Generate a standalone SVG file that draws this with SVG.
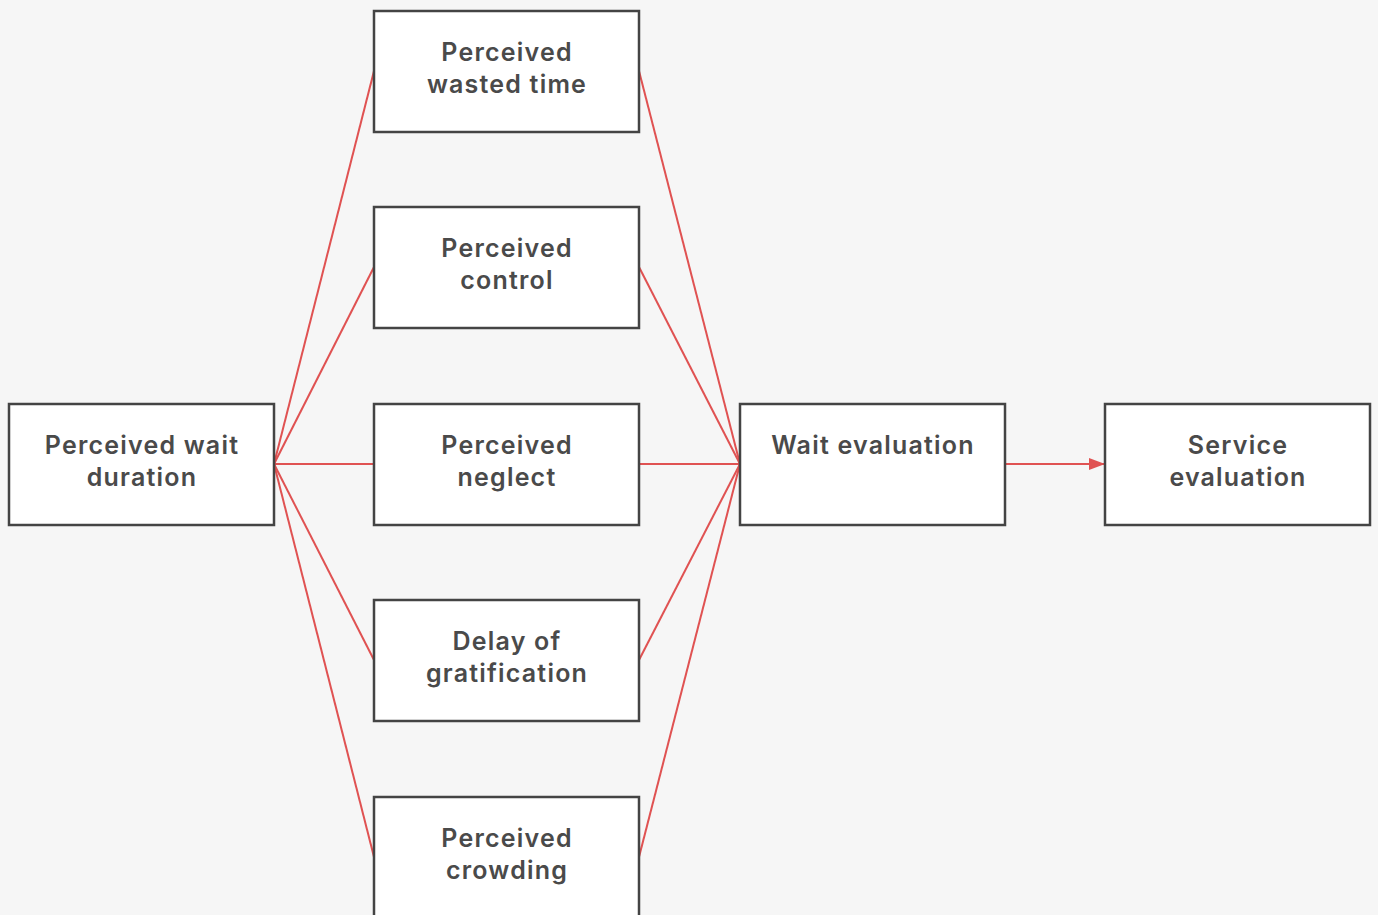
<svg xmlns="http://www.w3.org/2000/svg" width="1378" height="915" viewBox="0 0 1378 915">
<style>
.box{fill:#ffffff;stroke:#444444;stroke-width:2.5}
.t{font-family:Inter,"Open Sans","Liberation Sans",sans-serif;font-weight:600;font-size:25px;letter-spacing:1.2px;fill:#4a4a4a;text-anchor:middle}
.c{stroke:#e05252;stroke-width:2;fill:none}
</style>
<defs>
<marker id="ah" markerWidth="16" markerHeight="12" refX="16" refY="6" orient="auto" markerUnits="userSpaceOnUse">
<path d="M0,0 L16,6 L0,12 Z" fill="#e05252"/>
</marker>
</defs>
<rect width="1378" height="915" fill="#f6f6f6"/>
<g id="connectors">
<line class="c" x1="274" y1="464" x2="374" y2="71"/>
<line class="c" x1="274" y1="464" x2="374" y2="267"/>
<line class="c" x1="274" y1="464" x2="374" y2="464"/>
<line class="c" x1="274" y1="464" x2="374" y2="660"/>
<line class="c" x1="274" y1="464" x2="374" y2="857"/>
<line class="c" x1="639" y1="71" x2="740" y2="464"/>
<line class="c" x1="639" y1="267" x2="740" y2="464"/>
<line class="c" x1="639" y1="464" x2="740" y2="464"/>
<line class="c" x1="639" y1="660" x2="740" y2="464"/>
<line class="c" x1="639" y1="857" x2="740" y2="464"/>
<line class="c" x1="1005" y1="464" x2="1105" y2="464" marker-end="url(#ah)"/>
</g>
<g id="n-duration">
<rect class="box" x="9" y="404" width="265" height="121"/>
<text class="t" x="142" y="454">Perceived wait</text>
<text class="t" x="142" y="486">duration</text>
</g>
<g id="n-wasted">
<rect class="box" x="374" y="11" width="265" height="121"/>
<text class="t" x="507" y="61">Perceived</text>
<text class="t" x="507" y="93">wasted time</text>
</g>
<g id="n-control">
<rect class="box" x="374" y="207" width="265" height="121"/>
<text class="t" x="507" y="257">Perceived</text>
<text class="t" x="507" y="289">control</text>
</g>
<g id="n-neglect">
<rect class="box" x="374" y="404" width="265" height="121"/>
<text class="t" x="507" y="454">Perceived</text>
<text class="t" x="507" y="486">neglect</text>
</g>
<g id="n-delay">
<rect class="box" x="374" y="600" width="265" height="121"/>
<text class="t" x="507" y="650">Delay of</text>
<text class="t" x="507" y="682">gratification</text>
</g>
<g id="n-crowding">
<rect class="box" x="374" y="797" width="265" height="121"/>
<text class="t" x="507" y="847">Perceived</text>
<text class="t" x="507" y="879">crowding</text>
</g>
<g id="n-wait">
<rect class="box" x="740" y="404" width="265" height="121"/>
<text class="t" x="873" y="454">Wait evaluation</text>
</g>
<g id="n-service">
<rect class="box" x="1105" y="404" width="265" height="121"/>
<text class="t" x="1238" y="454">Service</text>
<text class="t" x="1238" y="486">evaluation</text>
</g>
</svg>
